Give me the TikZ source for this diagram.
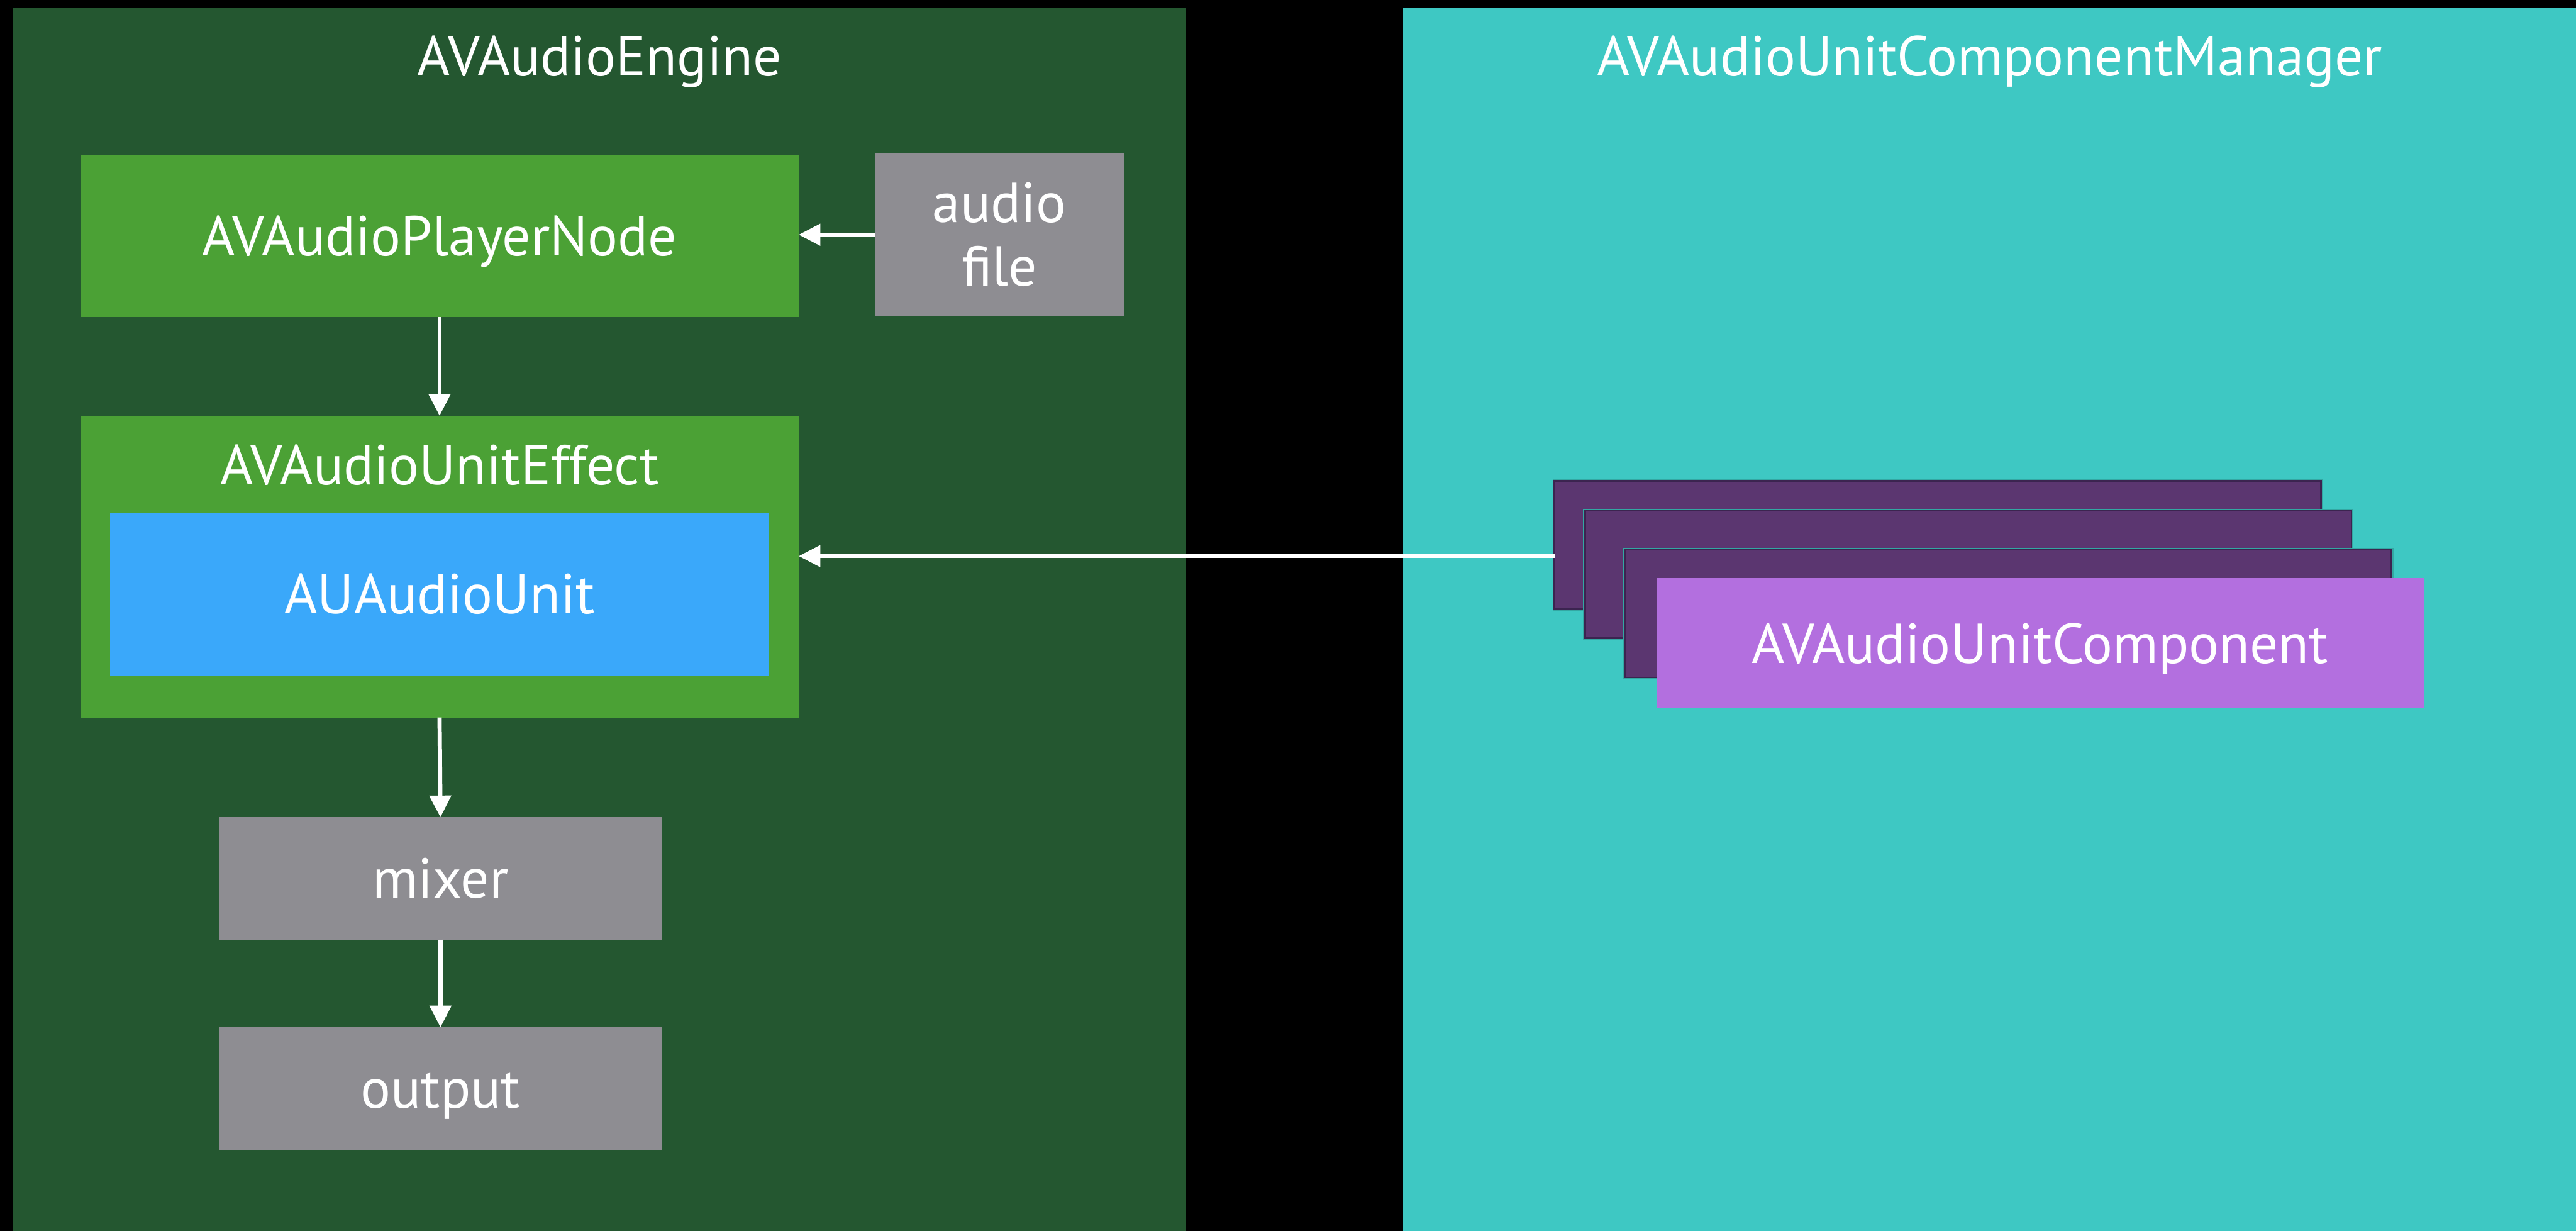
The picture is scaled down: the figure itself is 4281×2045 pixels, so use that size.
\documentclass[tikz,border=0pt]{standalone}
\usepackage{fontspec}
\setmainfont{PT Sans}
\usetikzlibrary{arrows.meta}
\definecolor{enginebg}{HTML}{245730}
\definecolor{managerbg}{HTML}{3EC8C3}
\definecolor{nodegreen}{HTML}{4BA135}
\definecolor{unitblue}{HTML}{3AA8FA}
\definecolor{plaingray}{HTML}{8E8D92}
\definecolor{compfront}{HTML}{B36FDF}
\definecolor{compback}{HTML}{5B3670}
\definecolor{compedge}{HTML}{3C2450}
\definecolor{compshade}{HTML}{33A8A3}
\begin{document}
\begin{tikzpicture}[x=0.01cm, y=-0.01cm,
  txt/.style={text=white, font=\fontsize{26.6pt}{30pt}\selectfont},
  box/.style={rectangle, inner sep=0pt, outer sep=0pt, txt},
  caps/.style={text height=18.6pt, text depth=0pt},
  title/.style={txt, anchor=base, inner sep=0pt},
  backcomp/.style={box, fill=compback, draw=compedge, line width=0.03cm,
    minimum width=12.73cm, minimum height=2.12cm},
  backshade/.style={backcomp, draw=compshade, line width=0.06cm},
  arr/.style={draw=white, line width=0.07cm,
    -{Triangle[length=0.36cm, width=0.35cm]}}]
  \fill[black] (0,0) rectangle (4281,2045);
  \useasboundingbox (0,0) rectangle (4281,2045);

  % the two containers
  \node[box, fill=enginebg, minimum width=19.49cm, minimum height=20.31cm] (engine) at (996.5,1029.5) {};
  \node[box, fill=managerbg, minimum width=19.49cm, minimum height=20.31cm] (manager) at (3306.5,1029.5) {};
  \node[title] (enginetitle) at (996.5,126) {AVAudioEngine};
  \node[title] (managertitle) at (3306.5,126) {AVAudioUnitComponentManager};

  % engine graph
  \node[box, caps, fill=nodegreen, minimum width=11.93cm, minimum height=2.70cm] (player) at (730.5,392) {AVAudioPlayerNode};
  \node[box, fill=plaingray, align=center, minimum width=4.14cm, minimum height=2.71cm] (file) at (1661,390) {audio\\file};
  \node[box, fill=nodegreen, minimum width=11.93cm, minimum height=5.01cm] (effect) at (730.5,941.5) {};
  \node[title] (effecttitle) at (730.5,805) {AVAudioUnitEffect};
  \node[box, caps, fill=unitblue, minimum width=10.95cm, minimum height=2.70cm] (unit) at (730.5,987) {AUAudioUnit};
  \node[box, caps, fill=plaingray, minimum width=7.36cm, minimum height=2.03cm] (mixer) at (732,1459.5) {mixer};
  \node[box, caps, fill=plaingray, minimum width=7.36cm, minimum height=2.03cm] (output) at (732,1808.5) {output};

  % stack of components, each with a thin shadow edge
  \node[backshade] (b1s) at (3220,905.5) {};
  \node[backcomp] (b1) at (3220,905.5) {};
  \node[backshade] (b2s) at (3271,954.5) {};
  \node[backcomp] (b2) at (3271,954.5) {};
  \node[backshade] (b3s) at (3337.5,1019.5) {};
  \node[backcomp] (b3) at (3337.5,1019.5) {};
  \node[box, caps, fill=compfront, minimum width=12.75cm, minimum height=2.16cm] (front) at (3390.5,1069) {AVAudioUnitComponent};

  % connectors
  \draw[arr] (file.west) -- (file.west -| player.east);
  \draw[arr] (player.south) -- (effect.north);
  \draw[arr] (effect.south) -- (mixer.north);
  \draw[arr] (mixer.south) -- (output.north);
  \draw[arr] ([yshift=-1.85mm]b1.west) coordinate (feed) -- (feed -| effect.east);
\end{tikzpicture}
\end{document}
